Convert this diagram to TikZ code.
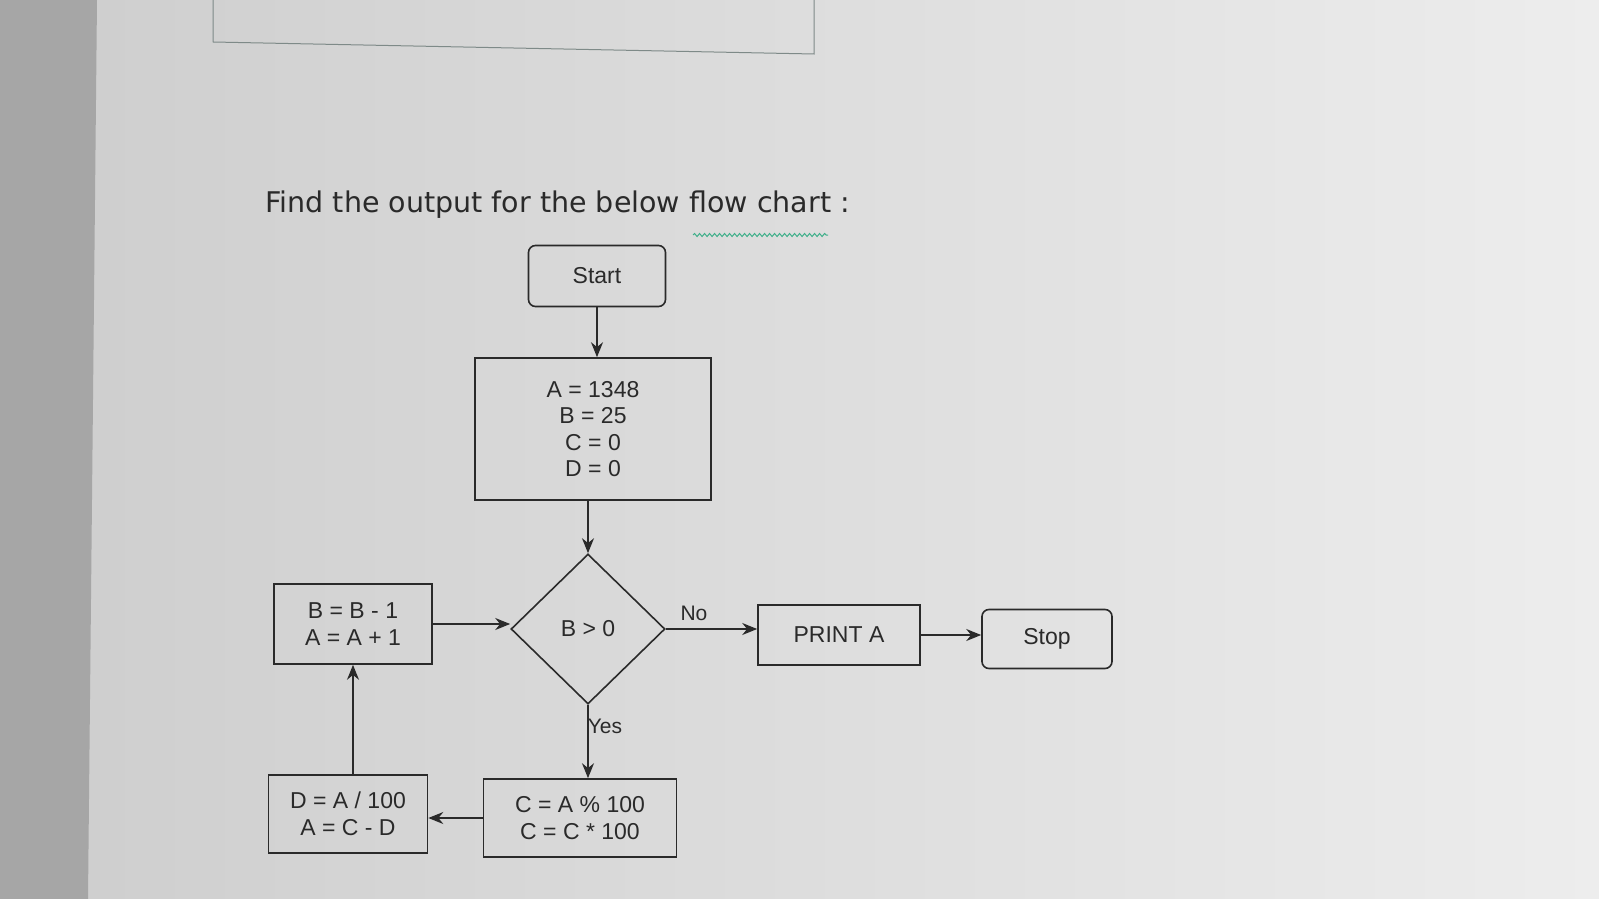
\documentclass[tikz,border=0pt]{standalone}
\usepackage{fontspec}
\setmainfont{Liberation Sans}
\newfontfamily\titlefont{DejaVu Sans}
\usetikzlibrary{shapes.geometric,arrows.meta,decorations.pathmorphing}

\definecolor{ink}{HTML}{2A2A2A}
\definecolor{page}{HTML}{CDCDCD}
\definecolor{pagelight}{HTML}{EDEDED}
\definecolor{edge}{HTML}{A6A6A6}
\definecolor{frame}{HTML}{7E8A88}
\definecolor{squiggle}{HTML}{3FAF8A}

\begin{document}
\begin{tikzpicture}[x=1pt,y=-1pt]
		% Define styles for boxes and arrows
		\tikzset{box/.style={draw=ink, line width=1.6pt, text=ink, font=\fontsize{23}{26.5}\selectfont, align=center, inner sep=0pt},
			term/.style={box, rounded corners=7pt},
			flow/.style={draw=ink, line width=1.6pt, -{Stealth[length=15pt,width=12pt]}},
			lbl/.style={text=ink, font=\fontsize{21}{24}\selectfont}}
		
		% Background of the photographed screen
		\useasboundingbox (0,0) rectangle (1599,899);
		\shade[left color=page, right color=pagelight] (0,0) rectangle (1599,899);
		\fill[edge] (0,0) -- (97,0) -- (88,899) -- (0,899) -- cycle;
		\draw[frame, line width=1pt] (213,0) -- (213,42) -- (814,54) -- (814,0);
		
		% Question text
		\node[anchor=west, text=ink, font=\titlefont\fontsize{28.5}{32}\selectfont] (title) at (262,205) {Find the output for the below flow chart :};
		\draw[squiggle, line width=1pt, decorate, decoration={snake, amplitude=1.5pt, segment length=5pt}] (693,235) -- (828,235);
		
		% Draw the nodes of the flow chart
		\node[term, minimum width=137pt, minimum height=61pt] (start) at (597,276) {Start};
		\node[box, minimum width=236pt, minimum height=142pt] (init) at (593,429) {A = 1348\\B = 25\\C = 0\\D = 0};
		\node[box, diamond, minimum width=154pt, minimum height=150pt] (test) at (588,629) {B > 0};
		\node[box, minimum width=158pt, minimum height=80pt] (update) at (353,624) {B = B - 1\\A = A + 1};
		\node[box, minimum width=162pt, minimum height=60pt] (print) at (839,635) {PRINT A};
		\node[term, minimum width=130pt, minimum height=59pt] (stop) at (1047,639) {Stop};
		\node[box, minimum width=159pt, minimum height=78pt] (split) at (348,814) {D = A / 100\\A = C - D};
		\node[box, minimum width=193pt, minimum height=78pt] (rem) at (580,818) {C = A \% 100\\C = C * 100};
		
		% Draw the arrows between the nodes
		\draw[flow] (start) -- (start |- init.north);
		\draw[flow] (init.south -| test.north) -- (test.north);
		\draw[flow] (test.east) -- (print.west |- test.east);
		\draw[flow] (print.east) -- (stop.west |- print.east);
		\draw[flow] (test.south) -- (test.south |- rem.north);
		\draw[flow] (rem.west) -- (split.east |- rem.west);
		\draw[flow] (split.north -| update.south) -- (update.south);
		\draw[flow] (update.east) -- (test.west |- update.east);
		
		% Add labels
		\node[lbl] (no) at (694,613) {No};
		\node[lbl] (yes) at (605,726) {Yes};
	\end{tikzpicture}
\end{document}
